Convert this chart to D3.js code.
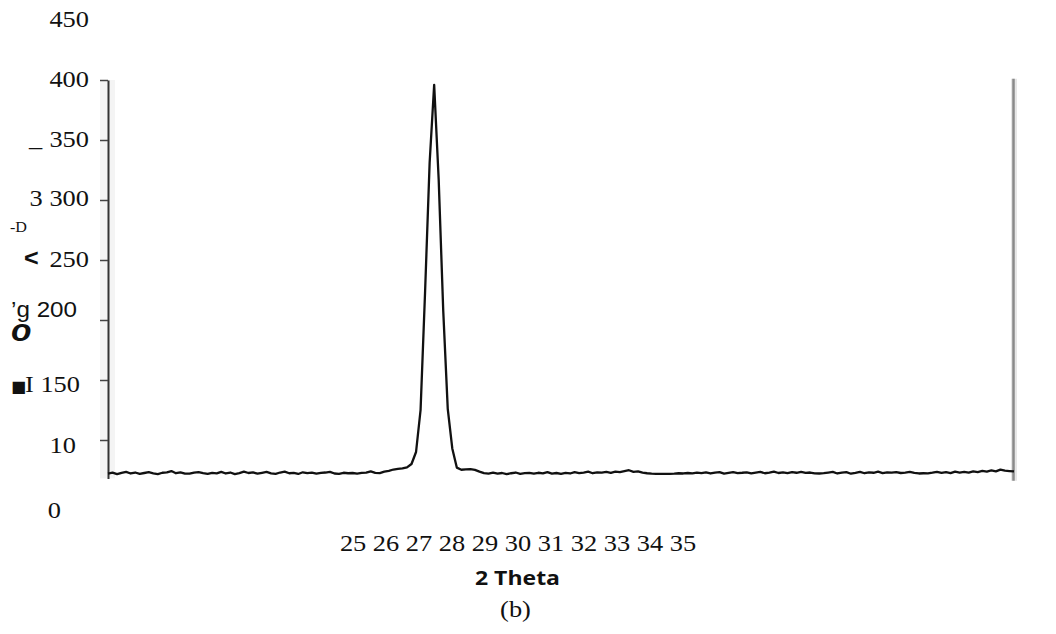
<!DOCTYPE html>
<html>
<head>
<meta charset="utf-8">
<script src="https://cdn.jsdelivr.net/npm/d3@7"></script>
<style>
  html, body { margin: 0; padding: 0; background: #fff; }
  svg { display: block; }
</style>
</head>
<body>
<svg id="chart" width="1056" height="634"></svg>
<script>
// XRD scan: intensity sampled every 0.05° of 2θ, from 25° to 35°
const twoThetaStart = 25;
const twoThetaStep = 0.05;
const intensity = [
  72.0, 72.8, 71.5, 72.6, 73.4, 72.1, 72.9, 71.8, 72.5, 73.2,
  72.2, 71.6, 72.7, 73.0, 74.1, 72.3, 73.1, 72.0, 71.9, 72.8,
  73.3, 72.4, 71.7, 72.6, 72.2, 73.5, 72.1, 72.9, 71.6, 72.4,
  73.6, 72.5, 73.0, 71.9, 72.7, 73.4, 72.2, 71.8, 72.9, 73.7,
  72.3, 72.6, 71.7, 73.1, 72.4, 72.8, 71.9, 72.6, 72.9, 73.5,
  72.1, 71.8, 72.7, 72.3, 72.5, 72.0, 72.6, 72.8, 73.9, 72.6,
  72.4, 73.6, 74.3, 75.4, 75.9, 76.3, 77.2, 80.0, 90.0, 125.0,
  224.0, 331.0, 396.0, 317.0, 208.0, 126.0, 93.0, 77.0, 75.2, 75.6,
  75.8, 75.1, 73.6, 72.4, 72.0, 72.8, 71.9, 72.5, 71.6, 72.3,
  72.9, 71.8, 72.4, 72.6, 71.9, 72.7, 72.2, 73.3, 72.0, 72.5,
  71.7, 72.6, 72.1, 73.2, 72.4, 72.9, 73.6, 72.3, 73.1, 72.8,
  73.4, 72.6, 73.7, 73.2, 74.0, 74.8, 73.5, 73.9, 72.8, 72.3,
  71.9, 71.8, 71.7, 71.8, 71.8, 71.9, 72.3, 72.1, 72.5, 72.2,
  72.8, 72.4, 73.0, 72.1, 72.9, 73.3, 72.0, 72.6, 73.2, 72.4,
  72.7, 73.1, 72.2, 72.9, 73.4, 72.3, 72.8, 73.6, 72.5, 73.0,
  72.4, 73.3, 72.7, 73.5, 72.6, 72.9, 72.2, 72.1, 72.4, 72.9,
  73.4, 72.1, 72.8, 73.2, 71.9, 72.6, 73.5, 72.3, 73.0, 72.7,
  73.6, 72.4, 73.1, 72.8, 73.3, 72.5, 72.9, 73.4, 72.6, 72.1,
  72.3, 72.2, 72.8, 73.5, 72.6, 73.2, 72.4, 73.7, 72.9, 73.4,
  72.8, 73.9, 73.3, 74.2, 73.6, 74.6, 73.8, 75.3, 74.4, 74.1,
  73.8
];

// Axis ticks and labels
const yTickValues = [100, 150, 200, 250, 300, 350, 400];
const yLabelValues = [450, 400, 350, 300, 250, 200, 150, 100, 0];
const yLabelText = ["450", "400", "350", "3 300", "250", "\u2019g 200", "I 150", "10", "0"];
const yStrayMarks = ["_", "-D", "<", "o", "\u25A0"];
const xTickLabels = ["25", "26", "27", "28", "29", "30", "31", "32", "33", "34", "35"];
const xTitle = "2 Theta";
const caption = "(b)";

const points = intensity.map((v, i) => ({ t: twoThetaStart + i * twoThetaStep, v }));

const svg = d3.select("#chart");
const SERIF = "'Liberation Serif', 'Times New Roman', serif";
const SANS = "'Liberation Sans', Arial, sans-serif";

const x = d3.scaleLinear().domain([25, 35]).range([108, 1014]);
const y = d3.scaleLinear().domain([0, 450]).range([560, 20]);

// Text helper: slightly widened glyphs, anchored at (px, py)
function addText(str, px, py, o = {}) {
  const g = svg.append("g")
    .attr("transform", `translate(${px},${py}) scale(${o.sx ?? 1.1},1)`);
  const t = g.append("text")
    .attr("x", 0).attr("y", 0)
    .attr("text-anchor", o.anchor || "start")
    .attr("font-family", o.family || SERIF)
    .attr("font-size", o.size || 24)
    .attr("font-weight", o.weight || "normal")
    .attr("font-style", o.style || "normal")
    .attr("fill", "#111")
    .text(str);
  if (o.length) t.attr("textLength", o.length).attr("lengthAdjust", "spacingAndGlyphs");
  return t;
}

// Soft band behind the y axis line
svg.append("rect")
  .attr("x", 100).attr("y", y(400))
  .attr("width", 15).attr("height", y(68) - y(400))
  .attr("fill", "#f4f4f4");

// Right frame edge
svg.append("line")
  .attr("x1", x(35)).attr("x2", x(35))
  .attr("y1", y(401)).attr("y2", y(66))
  .attr("stroke", "#e6e6e6").attr("stroke-width", 6);
svg.append("line")
  .attr("x1", x(35) - 0.5).attr("x2", x(35) - 0.5)
  .attr("y1", y(401)).attr("y2", y(66))
  .attr("stroke", "#8a8a8a").attr("stroke-width", 2.5);

// Y axis (ticks only, labels drawn separately)
const yAxisScale = y.copy().domain([68, 400]).range([y(68), y(400)]);
const yAxis = svg.append("g")
  .attr("transform", `translate(${x(25)},0)`)
  .call(d3.axisLeft(yAxisScale).tickValues(yTickValues).tickSize(8).tickSizeOuter(0).tickFormat(""));
yAxis.select(".domain").attr("stroke", "#333").attr("stroke-width", 2);
yAxis.selectAll(".tick line").attr("stroke", "#444").attr("stroke-width", 1.5);

// Y labels: right edge and baseline offset from the scale position
const yLabelLayout = [
  { right: 89, dy: 7 },
  { right: 89, dy: 7 },
  { right: 89, dy: 7 },
  { right: 89, dy: 6 },
  { right: 89, dy: 7 },
  { right: 77, dy: -3, family: SANS, size: 22 },
  { right: 80, dy: 12 },
  { right: 76, dy: 13 },
  { right: 61, dy: -42 }
];
yLabelValues.forEach((v, i) => {
  const l = yLabelLayout[i];
  addText(yLabelText[i], l.right, y(v) + l.dy, { anchor: "end", family: l.family, size: l.size });
});

// Stray marks beside the y labels
addText(yStrayMarks[0], 29, y(350) + 6, { size: 24 });
addText(yStrayMarks[1], 10, y(300) + 32, { size: 14, sx: 1.15 });
addText(yStrayMarks[2], 24, y(250) + 6, { family: SANS, weight: "bold", size: 24, sx: 1.05 });
addText(yStrayMarks[3], 11, y(200) + 21, { family: SANS, weight: "bold", style: "italic", size: 32, sx: 1.05 });
addText(yStrayMarks[4], 11, y(150) + 12, { family: "'DejaVu Sans', sans-serif", size: 16, sx: 1.0 });

// Diffraction trace
svg.append("path")
  .datum(points)
  .attr("d", d3.line().x(d => x(d.t)).y(d => y(d.v)))
  .attr("fill", "none")
  .attr("stroke", "#111")
  .attr("stroke-width", 2.3)
  .attr("stroke-linejoin", "round");

// X tick labels, title and caption
addText(xTickLabels.join(" "), 518, 551, { anchor: "middle" });
addText(xTitle, 517.5, 585, { anchor: "middle", family: "'Open Sans', sans-serif", weight: "bold", size: 20, sx: 1, length: 85 });
addText(caption, 515.5, 617, { anchor: "middle" });
</script>
</body>
</html>
